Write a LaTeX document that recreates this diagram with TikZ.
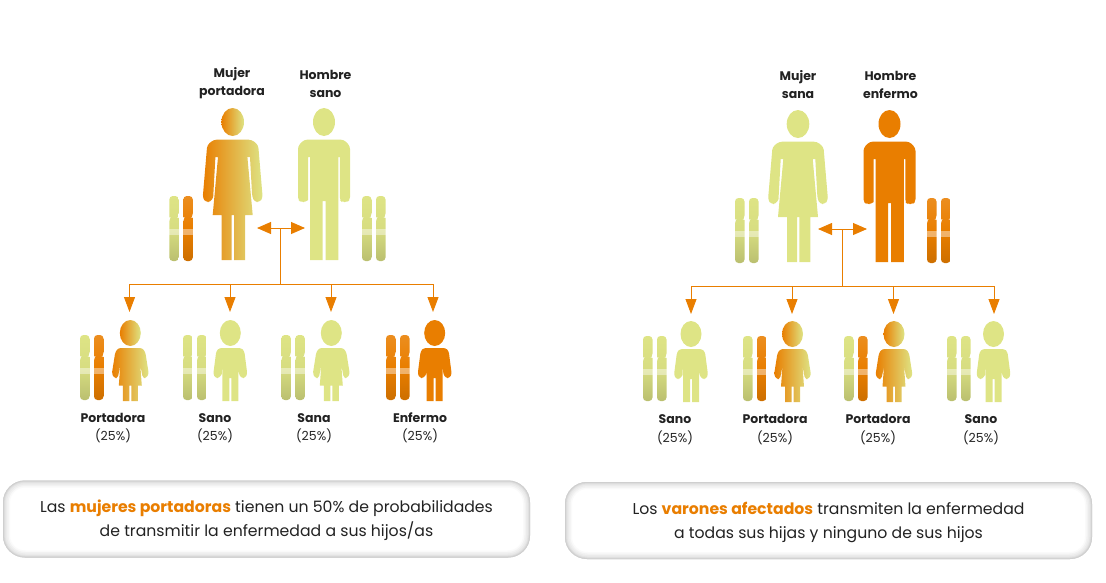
\documentclass[tikz,border=0pt]{standalone}
\usepackage{fontspec}
\setmainfont{Poppins}
\usetikzlibrary{arrows.meta}

\definecolor{orangeC}{HTML}{E97E00}
\definecolor{limeC}{HTML}{DEE485}
\definecolor{inkC}{HTML}{222222}

\tikzset{
    sanofig/.style={fill=limeC},
    enfermofig/.style={fill=orangeC},
    portafig/.style={left color=orangeC, right color=limeC},
    limebar/.style={top color=limeC, bottom color=limeC!84!black, middle color=limeC!97!black},
    orangebar/.style={top color=orangeC!88!white, bottom color=orangeC!88!black, middle color=orangeC},
    title/.style={font=\fontsize{12.5}{18}\selectfont\bfseries, text=inkC, align=center, inner sep=0},
    percent/.style={font=\fontsize{12.5}{18}\selectfont, text=inkC, inner sep=0},
    link/.style={draw=orangeC, line width=0.9pt},
    drop/.style={link, -{Triangle[length=15pt, width=11pt]}},
    spread/.style={link, {Triangle[length=14pt, width=12pt]}-{Triangle[length=14pt, width=12pt]}},
    softbox/.style={fill=white, rounded corners=22pt, inner sep=0,
        path picture={
            \foreach \wd/\tone in {14/2, 11/5, 8/8, 5/11, 3/15, 1.5/19}
                \draw[black!\tone, line width=\wd pt, rounded corners=22pt]
                    (path picture bounding box.south west) rectangle (path picture bounding box.north east);
        }},
    notetext/.style={text=inkC, align=center, inner sep=0, yshift=-1.5pt,
        font=\fontsize{15.7}{24}\selectfont},
    pics/chrombar/.style={code={
        \path[#1, rounded corners=3.5pt] (0,0) -- (9.5,0) -- (9.5,21) [sharp corners] -- (8.8,21.5) -- (9.5,22)
            [rounded corners=3.5pt] -- (9.5,65) -- (0,65) -- (0,22) [sharp corners] -- (0.7,21.5) -- (0,21)
            [rounded corners=3.5pt] -- cycle;
        \fill[white, opacity=0.42] (0,33) rectangle (9.5,39);
    }},
    pics/chrompair/.style 2 args={code={
        \pic at (0,0) {chrombar={#1}};
        \pic at (14,0) {chrombar={#2}};
    }},
    pics/womanfig/.style={code={
        \path[#1] (0,0) ellipse (11.3 and 14);
        \path[#1, rounded corners=3pt] (-19,17.7) -- (19,17.7) -- (25.5,23) -- (30,76) -- (27,80) -- (22,80) -- (19.5,75)
            [sharp corners] -- (17.3,35) -- (14.7,35) -- (20,93) -- (12.3,93) -- (12.3,138) -- (1.3,138) -- (1.3,93)
            -- (-1,93) -- (-1,138) -- (-11,138) -- (-11,93) -- (-20,93) -- (-14.7,35) -- (-17.3,35) -- (-19.5,75)
            [rounded corners=3pt] -- (-22,80) -- (-27,80) -- (-30,76) -- (-25.5,23) -- cycle;
    }},
    pics/manfig/.style={code={
        \path[#1] (0,0) ellipse (11 and 14);
        \path[#1, rounded corners=3pt] (-20,17.7) -- (20,17.7) -- (26,24) -- (26,78) -- (23,80) -- (18,80) -- (15.8,78)
            [sharp corners] -- (15.8,35) -- (14.3,35) -- (14.3,138) -- (1.5,138) -- (1.5,79)
            -- (-1.5,79) -- (-1.5,138) -- (-14,138) -- (-14,35) -- (-15.8,35) -- (-15.8,78)
            [rounded corners=3pt] -- (-18,80) -- (-23,80) -- (-26,78) -- (-26,24) -- cycle;
    }},
    pics/girlfig/.style={code={
        \path[#1] (0,0) ellipse (10.5 and 13);
        \path[#1, rounded corners=2.5pt] (-12,15) -- (12,15) -- (15,19) -- (18.5,41) -- (16,45) -- (12.5,45) -- (10,32)
            [sharp corners] -- (11.5,52.7) -- (7.5,52.7) -- (7.5,68) -- (1,68) -- (1,52.7)
            -- (-1,52.7) -- (-1,68) -- (-7.5,68) -- (-7.5,52.7) -- (-11.5,52.7) -- (-10,32)
            [rounded corners=2.5pt] -- (-12.5,45) -- (-16,45) -- (-18.5,41) -- (-15,19) -- cycle;
    }},
    pics/boyfig/.style={code={
        \path[#1] (0,0) ellipse (10.5 and 13);
        \path[#1, rounded corners=2.5pt] (-11,15) -- (11,15) -- (14,18) -- (17,41) -- (15,45) -- (11,45) -- (8.5,41)
            [sharp corners] -- (8,30) -- (8,68) -- (1,68) -- (1,45) -- (-1,45) -- (-1,68) -- (-8,68) -- (-8,30) -- (-8.5,41)
            [rounded corners=2.5pt] -- (-11,45) -- (-15,45) -- (-17,41) -- (-14,18) -- cycle;
    }},
}

\begin{document}
\begin{tikzpicture}[x=1pt, y=-1pt]

    \useasboundingbox (0,0) rectangle (1106,582);

    % Left family: parents
    \pic at (232.7,122) {womanfig=portafig};
    \pic at (324,122) {manfig=sanofig};
    \pic at (169.3,196) {chrompair={limebar}{orangebar}};
    \pic at (362,196) {chrompair={limebar}{limebar}};
    \node[title] (motherL) at (232,83.5) {Mujer\\portadora};
    \node[title] (fatherL) at (325.5,83.5) {Hombre\\sano};

    % Left family: children
    \pic at (130.3,333) {girlfig=portafig};
    \pic at (230.3,333) {boyfig=sanofig};
    \pic at (331.3,333) {girlfig=sanofig};
    \pic at (434.7,333) {boyfig=enfermofig};
    \pic at (80,335) {chrompair={limebar}{orangebar}};
    \pic at (183,335) {chrompair={limebar}{limebar}};
    \pic at (281.3,335) {chrompair={limebar}{limebar}};
    \pic at (386,335) {chrompair={orangebar}{orangebar}};
    \node[title] (childLa) at (113,418) {Portadora};
    \node[title] (childLb) at (215,418) {Sano};
    \node[title] (childLc) at (314,418) {Sana};
    \node[title] (childLd) at (420,418) {Enfermo};
    \node[percent] (pctLa) at (113,436) {(25\%)};
    \node[percent] (pctLb) at (215,436) {(25\%)};
    \node[percent] (pctLc) at (314,436) {(25\%)};
    \node[percent] (pctLd) at (420,436) {(25\%)};

    % Left family: arrows
    \coordinate (parentsLa) at (257,228);
    \coordinate (parentsLb) at (305,228);
    \coordinate (splitL) at (280,228);
    \coordinate (busL) at (280,284);
    \coordinate (dropLa) at (129.5,312);
    \coordinate (dropLb) at (230,312);
    \coordinate (dropLc) at (331,312);
    \coordinate (dropLd) at (433,312);
    \draw[spread] (parentsLa) -- (parentsLb);
    \draw[link] (splitL) -- (busL);
    \draw[link] (dropLa |- busL) -- (dropLd |- busL);
    \draw[drop] (dropLa |- busL) -- (dropLa);
    \draw[drop] (dropLb |- busL) -- (dropLb);
    \draw[drop] (dropLc |- busL) -- (dropLc);
    \draw[drop] (dropLd |- busL) -- (dropLd);

    % Right family: parents
    \pic at (798,124) {womanfig=sanofig};
    \pic at (889.5,124) {manfig=enfermofig};
    \pic at (735,198) {chrompair={limebar}{limebar}};
    \pic at (927,198) {chrompair={orangebar}{orangebar}};
    \node[title] (motherR) at (798,85) {Mujer\\sana};
    \node[title] (fatherR) at (890.5,85) {Hombre\\enfermo};

    % Right family: children
    \pic at (691,334) {boyfig=sanofig};
    \pic at (792.5,334) {girlfig=portafig};
    \pic at (894,334) {girlfig=portafig};
    \pic at (993.5,334) {boyfig=sanofig};
    \pic at (643,336) {chrompair={limebar}{limebar}};
    \pic at (743,336) {chrompair={limebar}{orangebar}};
    \pic at (844,336) {chrompair={limebar}{orangebar}};
    \pic at (947,336) {chrompair={limebar}{limebar}};
    \node[title] (childRa) at (675,419) {Sano};
    \node[title] (childRb) at (775,419) {Portadora};
    \node[title] (childRc) at (878,419) {Portadora};
    \node[title] (childRd) at (981,419) {Sano};
    \node[percent] (pctRa) at (675,438) {(25\%)};
    \node[percent] (pctRb) at (775,438) {(25\%)};
    \node[percent] (pctRc) at (878,438) {(25\%)};
    \node[percent] (pctRd) at (981,438) {(25\%)};

    % Right family: arrows
    \coordinate (parentsRa) at (818,229);
    \coordinate (parentsRb) at (867,229);
    \coordinate (splitR) at (842,229);
    \coordinate (busR) at (842,286);
    \coordinate (dropRa) at (691,314);
    \coordinate (dropRb) at (792,314);
    \coordinate (dropRc) at (893.5,314);
    \coordinate (dropRd) at (994,314);
    \draw[spread] (parentsRa) -- (parentsRb);
    \draw[link] (splitR) -- (busR);
    \draw[link] (dropRa |- busR) -- (dropRd |- busR);
    \draw[drop] (dropRa |- busR) -- (dropRa);
    \draw[drop] (dropRb |- busR) -- (dropRb);
    \draw[drop] (dropRc |- busR) -- (dropRc);
    \draw[drop] (dropRd |- busR) -- (dropRd);

    % Notes
    \node[softbox, minimum width=527pt, minimum height=77pt] (noteL) at (266.5,519) {};
    \node[notetext] (noteLtext) at (noteL)
        {Las \textbf{\textcolor{orangeC}{mujeres portadoras}} tienen un 50\% de probabilidades\\de transmitir la enfermedad a sus hijos/as};
    \node[softbox, minimum width=527pt, minimum height=77pt] (noteR) at (828.5,520.5) {};
    \node[notetext] (noteRtext) at (noteR)
        {Los \textbf{\textcolor{orangeC}{varones afectados}} transmiten la enfermedad\\a todas sus hijas y ninguno de sus hijos};

\end{tikzpicture}
\end{document}
